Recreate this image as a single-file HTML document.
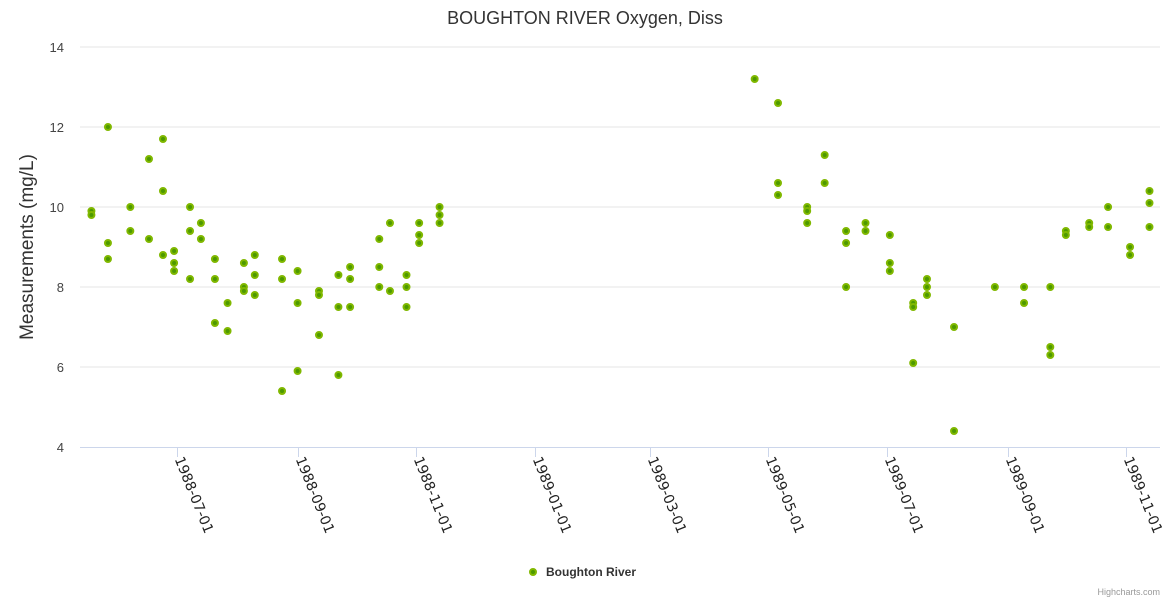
<!DOCTYPE html>
<html><head><meta charset="utf-8"><style>
body{margin:0;background:#fff;font-family:"Liberation Sans",sans-serif}
svg{display:block}
</style></head><body>
<svg id="chart" width="1170" height="600">
<text x="585" y="24" text-anchor="middle" font-size="18" fill="#333">BOUGHTON RIVER Oxygen, Diss</text>
<text transform="translate(33,247) rotate(-90)" text-anchor="middle" font-size="19" fill="#333">Measurements (mg/L)</text>
<g id="grid"></g><g id="xaxis"></g><g id="pts"></g>
<g>
<circle cx="533" cy="572" r="3" fill="#4d9900" stroke="#80b800" stroke-width="2"/>
<text x="546" y="576" font-size="12" font-weight="bold" fill="#333">Boughton River</text></g>
<text x="1160" y="595" text-anchor="end" font-size="9" fill="#999">Highcharts.com</text>
</svg>
<script>
// days since 1988-07-01
const days=[-44,-44,-35.5,-35.5,-35.5,-24,-24,-14.4,-14.4,-7.2,-7.2,-7.2,-1.5,-1.5,-1.5,6.7,6.7,6.7,12.3,12.3,19.5,19.5,19.5,26,26,34.4,34.4,34.4,40,40,40,54,54,54,62,62,62,73,73,73,83,83,83,89,89,89,104,104,104,109.5,109.5,118,118,118,124.5,124.5,124.5,135,135,135,
297,309,309,309,324,324,324,333,333,344,344,344,354,354,366.5,366.5,366.5,378.5,378.5,378.5,385.6,385.6,385.6,399.5,399.5,420.5,435.5,435.5,449,449,449,457,457,469,469,478.7,478.7,490,490,500,500,500];
const values=[9.9,9.8,12.0,9.1,8.7,10.0,9.4,11.2,9.2,11.7,10.4,8.8,8.9,8.6,8.4,10.0,9.4,8.2,9.6,9.2,8.7,8.2,7.1,7.6,6.9,8.6,8.0,7.9,8.8,8.3,7.8,8.7,8.2,5.4,8.4,7.6,5.9,7.9,7.8,6.8,8.3,7.5,5.8,8.5,8.2,7.5,9.2,8.5,8.0,9.6,7.9,8.3,8.0,7.5,9.6,9.3,9.1,10.0,9.8,9.6,
13.2,12.6,10.6,10.3,10.0,9.9,9.6,11.3,10.6,9.4,9.1,8.0,9.6,9.4,9.3,8.6,8.4,7.6,7.5,6.1,8.2,8.0,7.8,7.0,4.4,8.0,8.0,7.6,8.0,6.5,6.3,9.4,9.3,9.6,9.5,10.0,9.5,9.0,8.8,10.4,10.1,9.5];
const yTicks=[4,6,8,10,12,14];
const xTickDays=[0,62,123,184,243,304,365,427,488];
const xTickLabels=["1988-07-01","1988-09-01","1988-11-01","1989-01-01","1989-03-01","1989-05-01","1989-07-01","1989-09-01","1989-11-01"];
const X=d=>177+d*1.945, Y=v=>447-(v-4)*40;
const NS="http://www.w3.org/2000/svg";
function mk(t,a,p){const e=document.createElementNS(NS,t);for(const k in a)e.setAttribute(k,a[k]);p.appendChild(e);return e;}
const grid=document.getElementById('grid');
yTicks.forEach(v=>{
 if(v>4){const l=mk('line',{x1:80,x2:1160,y1:Y(v),y2:Y(v),stroke:'#e6e6e6'},grid);
 
 }
 const t=mk('text',{x:64,y:Y(v)+5,'text-anchor':'end','font-size':13,fill:'#444'},grid);t.textContent=v;
 
 
});
const xa=document.getElementById('xaxis');
const ax=mk('line',{x1:80,x2:1160,y1:447.5,y2:447.5,stroke:'#ccd6eb'},xa);


xTickDays.forEach((d,i)=>{
 const x=Math.round(X(d))+0.5;
 const tk=mk('line',{x1:x,x2:x,y1:447,y2:457,stroke:'#ccd6eb'},xa);
 
 
 const t=mk('text',{transform:`translate(${x-3},459) rotate(68)`,'font-size':14,fill:'#222','font-family':'"DejaVu Sans",sans-serif'},xa);t.textContent=xTickLabels[i];
 
 
});
const pts=document.getElementById('pts');
days.forEach((d,i)=>{
 const c=mk('circle',{cx:X(d),cy:Y(values[i]),r:3,fill:'#4d9900',stroke:'#80b800','stroke-width':2},pts);
 
 
});
</script>
</body></html>
